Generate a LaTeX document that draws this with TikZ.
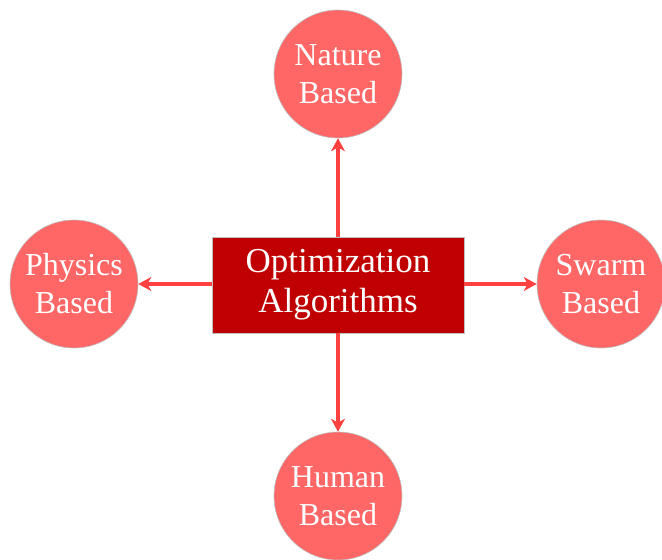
\documentclass[tikz,border=0pt]{standalone}
\usepackage{fontspec}
\setmainfont{Liberation Serif}
\usetikzlibrary{arrows.meta}
\definecolor{boxred}{HTML}{C00000}
\definecolor{circred}{HTML}{FF6666}
\definecolor{arrred}{HTML}{FF4040}
\definecolor{edgegrey}{HTML}{BFBFBF}
\tikzset{
  x=1pt, y=-1pt,
  catcircle/.style={circle, fill=circred, draw=edgegrey, line width=0.6pt, minimum size=128pt, inner sep=0pt, text=white, font=\fontsize{32}{38}\selectfont, align=center},
  mainbox/.style={rectangle, fill=boxred, draw=edgegrey, line width=0.6pt, minimum width=252pt, minimum height=96pt, inner sep=0pt, text=white, font=\fontsize{35}{40}\selectfont, align=center},
  link/.style={draw=arrred, line width=3.5pt, -{Stealth[length=13pt, width=14pt, inset=4pt]}}
}
\begin{document}
\begin{tikzpicture}
\useasboundingbox (0,0) rectangle (662,560);
\node[mainbox] (main) at (338,285) {Optimization\\Algorithms};
\node[catcircle] (nature) at (338,74) {Nature\\Based};
\node[catcircle] (physics) at (74,284) {Physics\\Based};
\node[catcircle] (swarm) at (601,284) {Swarm\\Based};
\node[catcircle] (human) at (338,496) {Human\\Based};
\draw[link] (main.north) -- (nature.south);
\draw[link] (main.west |- physics.east) -- (physics.east);
\draw[link] (main.east |- swarm.west) -- (swarm.west);
\draw[link] (main.south) -- (human.north);
\end{tikzpicture}
\end{document}
